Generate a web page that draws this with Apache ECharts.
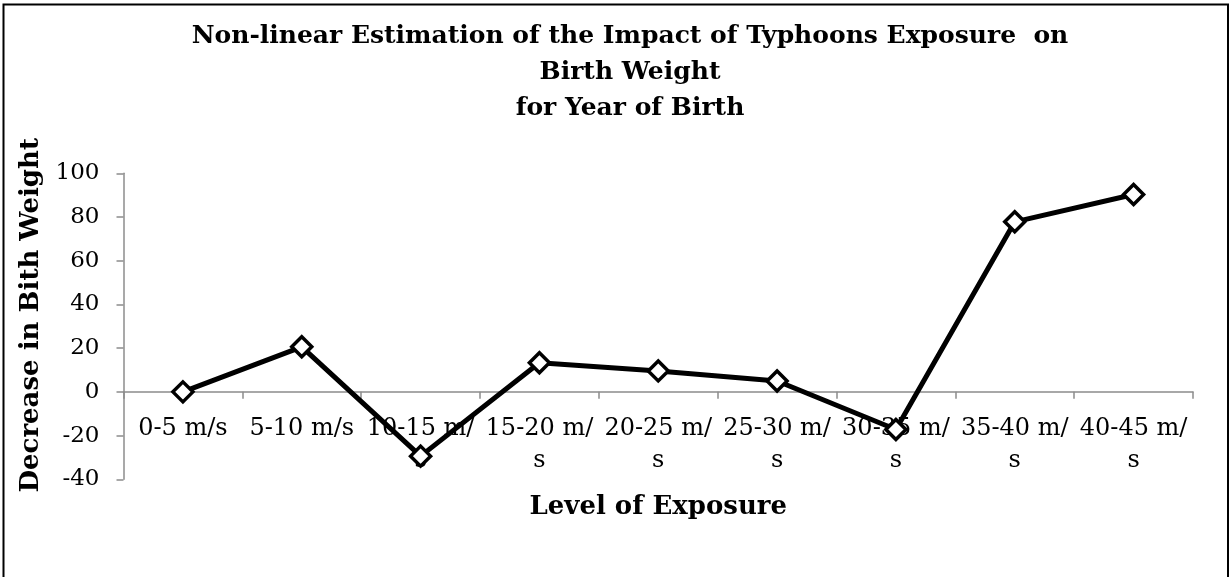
<!DOCTYPE html>
<html>
<head>
<meta charset="utf-8">
<script src="https://cdn.jsdelivr.net/npm/echarts@6/dist/echarts.min.js"></script>
<style>
html,body{margin:0;padding:0;background:#fff;}
#chart{width:1231px;height:577px;}
</style>
</head>
<body>
<div id="chart"></div>
<script>
const titleText = "Non-linear Estimation of the Impact of Typhoons Exposure  on\nBirth Weight\nfor Year of Birth";
const categories = ["0-5 m/s","5-10 m/s","10-15 m/s","15-20 m/s","20-25 m/s","25-30 m/s","30-35 m/s","35-40 m/s","40-45 m/s"];
const values = [0, 20.6, -29.4, 13.3, 9.6, 5.0, -17.2, 77.8, 90.3];
const yTicks = { min: -40, max: 100, interval: 20 };
const xName = "Level of Exposure";
const yName = "Decrease in Bith Weight";

const FONT = "DejaVu Serif";
const chart = echarts.init(document.getElementById('chart'), null, {renderer:'canvas'});
chart.setOption({
  backgroundColor: '#fff',
  animation: false,
  title: {
    text: titleText,
    left: 630, textAlign: 'center',
    top: 18, padding: 0,
    textStyle: { fontFamily: FONT, fontWeight: 'bold', fontSize: 25, lineHeight: 36, color: '#000' }
  },
  graphic: [{
    type: 'rect', shape: { x: 3.5, y: 4.5, width: 1224.5, height: 620 },
    style: { fill: 'none', stroke: '#000', lineWidth: 2 }, silent: true, z: 100
  }],
  grid: { left: 123.5, right: 38, top: 173.3, bottom: 97.7, containLabel: false, outerBoundsMode: 'none' },
  xAxis: {
    type: 'category', data: categories, boundaryGap: true,
    axisLine: { onZero: true, lineStyle: { color: '#8c8c8c', width: 1.5 } },
    axisTick: { show: true, alignWithLabel: false, length: 7, lineStyle: { color: '#8c8c8c', width: 1.5 } },
    axisLabel: {
      interval: 0, margin: -67, color: '#000', fontFamily: FONT, fontSize: 24, lineHeight: 32,
      formatter: v => v.length > 8 ? v.replace('m/', 'm/\n') : v
    },
    name: xName, nameLocation: 'middle', nameGap: 15,
    nameTextStyle: { fontFamily: FONT, fontWeight: 'bold', fontSize: 26, color: '#000' },
    splitLine: { show: false }
  },
  yAxis: {
    type: 'value', min: yTicks.min, max: yTicks.max, interval: yTicks.interval,
    axisLine: { show: true, lineStyle: { color: '#8c8c8c', width: 1.5 } },
    axisTick: { show: true, length: 7, lineStyle: { color: '#8c8c8c', width: 1.5 } },
    axisLabel: { margin: 24, color: '#000', fontFamily: FONT, fontSize: 23 },
    splitLine: { show: false },
    name: yName, nameLocation: 'middle', nameGap: 60, nameRotate: 90,
    nameTextStyle: { fontFamily: FONT, fontWeight: 'bold', fontSize: 26, color: '#000', padding: [0, 0, 0, 22] }
  },
  series: [{
    type: 'line', data: values,
    lineStyle: { color: '#000', width: 5 },
    symbol: 'diamond', symbolSize: 20,
    itemStyle: { color: '#fff', borderColor: '#000', borderWidth: 3.5 },
    z: 5
  }]
});
</script>
</body>
</html>
